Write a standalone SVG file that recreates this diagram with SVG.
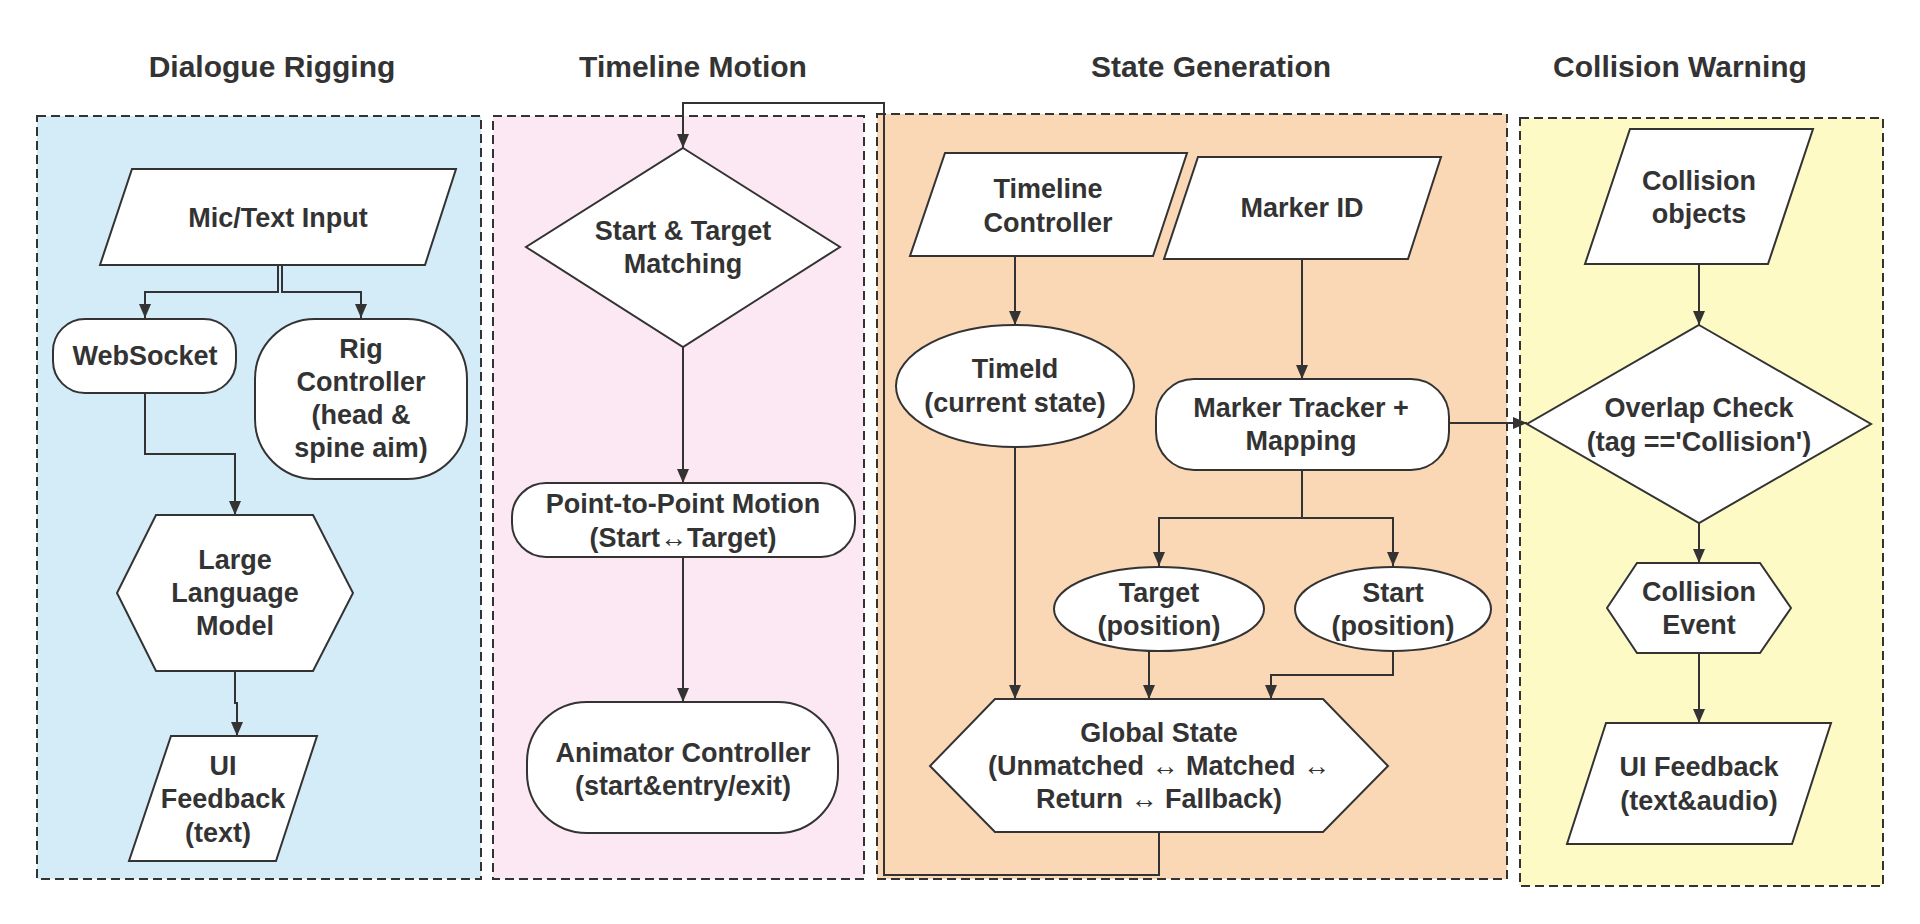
<svg xmlns="http://www.w3.org/2000/svg" width="1920" height="924" viewBox="0 0 1920 924">
<style>
.panel{stroke:#333;stroke-width:2;stroke-dasharray:9,5}
.node{fill:#fff;stroke:#333;stroke-width:2}
.t{font-family:"Liberation Sans",Arial,sans-serif;font-weight:bold;font-size:27px;fill:#333;text-anchor:middle}
.title{font-family:"Liberation Sans",Arial,sans-serif;font-weight:bold;font-size:30px;fill:#333;text-anchor:middle}
.c{fill:none;stroke:#333;stroke-width:2}
</style>
<defs>
<marker id="arr" markerUnits="userSpaceOnUse" markerWidth="14" markerHeight="12" refX="14" refY="6" orient="auto">
<path d="M0,0 L14,6 L0,12 z" fill="#333"/>
</marker>
</defs>
<rect width="1920" height="924" fill="#fff"/>

<g id="panels">
<rect class="panel" x="37" y="116" width="444" height="763" fill="#D4ECF8"/>
<rect class="panel" x="493" y="116" width="371" height="763" fill="#FCE8F2"/>
<rect class="panel" x="877" y="114" width="630" height="765" fill="#FAD7B5"/>
<rect class="panel" x="1520" y="118" width="363" height="768" fill="#FEFAC5"/>
</g>

<g id="titles">
<text class="title" x="272" y="77">Dialogue Rigging</text>
<text class="title" x="693" y="77">Timeline Motion</text>
<text class="title" x="1211" y="77">State Generation</text>
<text class="title" x="1680" y="77">Collision Warning</text>
</g>

<g id="connectors">
<polyline class="c" points="278,265 278,292 145,292 145,318" marker-end="url(#arr)"/>
<polyline class="c" points="282,265 282,292 361,292 361,318" marker-end="url(#arr)"/>
<polyline class="c" points="145,393 145,454 235,454 235,515" marker-end="url(#arr)"/>
<polyline class="c" points="235,671 235,703 237,703 237,736" marker-end="url(#arr)"/>
<line class="c" x1="683" y1="347" x2="683" y2="483" marker-end="url(#arr)"/>
<line class="c" x1="683" y1="557" x2="683" y2="702" marker-end="url(#arr)"/>
<line class="c" x1="1015" y1="256" x2="1015" y2="325" marker-end="url(#arr)"/>
<line class="c" x1="1302" y1="259" x2="1302" y2="379" marker-end="url(#arr)"/>
<polyline class="c" points="1302,470 1302,518 1159,518 1159,566" marker-end="url(#arr)"/>
<polyline class="c" points="1302,518 1393,518 1393,566" marker-end="url(#arr)"/>
<line class="c" x1="1015" y1="447" x2="1015" y2="699" marker-end="url(#arr)"/>
<line class="c" x1="1149" y1="651" x2="1149" y2="699" marker-end="url(#arr)"/>
<polyline class="c" points="1393,651 1393,675 1271,675 1271,699" marker-end="url(#arr)"/>
<polyline class="c" points="1159,832 1159,875 884,875 884,103 683,103 683,148" marker-end="url(#arr)"/>
<line class="c" x1="1449" y1="423" x2="1527" y2="423" marker-end="url(#arr)"/>
<line class="c" x1="1699" y1="264" x2="1699" y2="325" marker-end="url(#arr)"/>
<line class="c" x1="1699" y1="523" x2="1699" y2="563" marker-end="url(#arr)"/>
<line class="c" x1="1699" y1="653" x2="1699" y2="723" marker-end="url(#arr)"/>
</g>

<g id="mic-input">
<polygon class="node" points="132,169 456,169 425,265 100,265"/>
<text class="t" x="278" y="227">Mic/Text Input</text>
</g>
<g id="websocket">
<rect class="node" x="53" y="319" width="183" height="74" rx="32"/>
<text class="t" x="145" y="365">WebSocket</text>
</g>
<g id="rig-controller">
<rect class="node" x="255" y="319" width="212" height="160" rx="60"/>
<text class="t" x="361" y="358">Rig</text>
<text class="t" x="361" y="391">Controller</text>
<text class="t" x="361" y="424">(head &amp;</text>
<text class="t" x="361" y="457">spine aim)</text>
</g>
<g id="llm">
<polygon class="node" points="156,515 313,515 353,593 313,671 156,671 117,593"/>
<text class="t" x="235" y="569">Large</text>
<text class="t" x="235" y="602">Language</text>
<text class="t" x="235" y="635">Model</text>
</g>
<g id="ui-feedback-text">
<polygon class="node" points="171,736 317,736 276,861 129,861"/>
<text class="t" x="223" y="775">UI</text>
<text class="t" x="223" y="808">Feedback</text>
<text class="t" x="218" y="842">(text)</text>
</g>

<g id="start-target-matching">
<polygon class="node" points="683,148 840,247 683,347 526,247"/>
<text class="t" x="683" y="240">Start &amp; Target</text>
<text class="t" x="683" y="273">Matching</text>
</g>
<g id="p2p-motion">
<rect class="node" x="512" y="483" width="343" height="74" rx="34"/>
<text class="t" x="683" y="513">Point-to-Point Motion</text>
<text class="t" x="683" y="547">(Start↔Target)</text>
</g>
<g id="animator-controller">
<rect class="node" x="527" y="702" width="311" height="131" rx="60"/>
<text class="t" x="683" y="762">Animator Controller</text>
<text class="t" x="683" y="795">(start&amp;entry/exit)</text>
</g>

<g id="timeline-controller">
<polygon class="node" points="945,153 1187,153 1153,256 910,256"/>
<text class="t" x="1048" y="198">Timeline</text>
<text class="t" x="1048" y="232">Controller</text>
</g>
<g id="marker-id">
<polygon class="node" points="1198,157 1441,157 1408,259 1164,259"/>
<text class="t" x="1302" y="217">Marker ID</text>
</g>
<g id="timeid">
<ellipse class="node" cx="1015" cy="386" rx="119" ry="61"/>
<text class="t" x="1015" y="378">TimeId</text>
<text class="t" x="1015" y="412">(current state)</text>
</g>
<g id="marker-tracker">
<rect class="node" x="1156" y="379" width="293" height="91" rx="38"/>
<text class="t" x="1301" y="417">Marker Tracker +</text>
<text class="t" x="1301" y="450">Mapping</text>
</g>
<g id="target-position">
<ellipse class="node" cx="1159" cy="609" rx="105" ry="42"/>
<text class="t" x="1159" y="602">Target</text>
<text class="t" x="1159" y="635">(position)</text>
</g>
<g id="start-position">
<ellipse class="node" cx="1393" cy="609" rx="98" ry="42"/>
<text class="t" x="1393" y="602">Start</text>
<text class="t" x="1393" y="635">(position)</text>
</g>
<g id="global-state">
<polygon class="node" points="995,699 1323,699 1388,766 1323,832 995,832 930,766"/>
<text class="t" x="1159" y="742">Global State</text>
<text class="t" x="1159" y="775">(Unmatched ↔ Matched ↔</text>
<text class="t" x="1159" y="808">Return ↔ Fallback)</text>
</g>

<g id="collision-objects">
<polygon class="node" points="1630,129 1813,129 1768,264 1585,264"/>
<text class="t" x="1699" y="190">Collision</text>
<text class="t" x="1699" y="223">objects</text>
</g>
<g id="overlap-check">
<polygon class="node" points="1699,325 1871,424 1699,523 1527,424"/>
<text class="t" x="1699" y="417">Overlap Check</text>
<text class="t" x="1699" y="451">(tag =='Collision')</text>
</g>
<g id="collision-event">
<polygon class="node" points="1637,563 1760,563 1791,608 1760,653 1637,653 1607,608"/>
<text class="t" x="1699" y="601">Collision</text>
<text class="t" x="1699" y="634">Event</text>
</g>
<g id="ui-feedback-audio">
<polygon class="node" points="1606,723 1831,723 1792,844 1567,844"/>
<text class="t" x="1699" y="776">UI Feedback</text>
<text class="t" x="1699" y="810">(text&amp;audio)</text>
</g>
</svg>
